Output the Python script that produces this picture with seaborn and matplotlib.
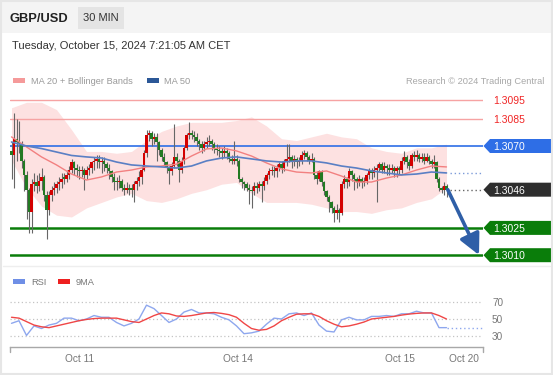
import numpy as np
import pandas as pd
import matplotlib
matplotlib.use('Agg')
import matplotlib.pyplot as plt
from matplotlib.patches import Rectangle, Polygon
from matplotlib.lines import Line2D
import seaborn as sns

sns.set_theme(style='white')
plt.rcParams['font.family'] = ['Liberation Sans', 'DejaVu Sans']

# ---- data (prices in pips above 1.3000, 30 min candles) ----
BASE = 1.3000

open_pips = [67, 65, 74, 72, 71, 62, 54, 46, 34, 49, 50, 48, 51, 53, 43, 35, 43, 46, 47, 49,
             50, 53, 52, 54, 57, 61, 58, 57, 56, 57, 54, 57, 58, 61, 62, 63, 61, 62, 60, 58,
             56, 53, 51, 50, 51, 47, 46, 47, 47, 46, 49, 51, 53, 57, 66, 76, 77, 74, 75, 72,
             68, 64, 61, 58, 56, 59, 64, 62, 57, 62, 69, 76, 77, 76, 75, 73, 71, 69, 71, 72,
             73, 71, 69, 68, 67, 66, 67, 66, 63, 62, 63, 62, 52, 50, 49, 47, 46, 45, 48, 47,
             49, 48, 51, 54, 56, 57, 56, 58, 60, 58, 61, 63, 64, 61, 63, 61, 62, 65, 66, 64,
             62, 63, 54, 52, 56, 50, 45, 42, 39, 36, 33, 35, 33, 49, 52, 50, 56, 54, 52, 50,
             52, 50, 51, 54, 57, 55, 57, 58, 60, 57, 59, 58, 57, 58, 56, 58, 57, 62, 64, 61,
             59, 65, 64, 65, 63, 64, 62, 64, 62, 60, 61, 52, 47, 46, 48]
high_pips = [72, 88, 85, 84, 73, 63, 56, 47, 52, 55, 54, 55, 58, 54, 45, 45, 48, 50, 51, 53,
             55, 55, 57, 59, 63, 62, 60, 59, 59, 58, 59, 60, 62, 64, 65, 65, 64, 64, 61, 60,
             57, 55, 53, 54, 52, 49, 50, 49, 49, 51, 53, 56, 59, 68, 79, 79, 78, 77, 77, 73,
             69, 66, 62, 59, 61, 82, 66, 63, 64, 70, 77, 83, 79, 78, 77, 74, 73, 73, 75, 76,
             74, 72, 71, 70, 69, 70, 69, 67, 65, 73, 65, 63, 53, 51, 50, 49, 48, 50, 50, 51,
             51, 53, 55, 58, 59, 59, 60, 61, 62, 63, 71, 71, 65, 65, 64, 64, 67, 68, 67, 65,
             66, 64, 56, 57, 57, 51, 46, 43, 40, 37, 38, 36, 51, 54, 53, 58, 57, 55, 53, 54,
             53, 53, 55, 58, 58, 59, 60, 61, 61, 61, 60, 60, 60, 59, 59, 59, 64, 67, 65, 63,
             66, 67, 68, 66, 66, 66, 66, 65, 63, 65, 62, 53, 48, 50, 49]
low_pips = [52, 47, 62, 66, 58, 45, 30, 22, 22, 45, 44, 45, 46, 40, 19, 32, 40, 43, 44, 46,
            47, 49, 50, 52, 55, 54, 53, 52, 53, 46, 52, 54, 55, 57, 58, 58, 55, 56, 55, 52,
            50, 46, 46, 47, 45, 43, 44, 43, 42, 39, 46, 48, 49, 56, 64, 73, 70, 71, 62, 65,
            62, 59, 55, 49, 54, 58, 59, 50, 55, 60, 68, 74, 74, 72, 70, 68, 66, 67, 69, 70,
            68, 66, 65, 64, 63, 64, 63, 61, 60, 60, 59, 50, 47, 46, 45, 38, 36, 43, 44, 45,
            39, 46, 49, 52, 54, 53, 53, 56, 55, 56, 59, 61, 58, 59, 58, 59, 60, 63, 62, 60,
            61, 52, 49, 51, 48, 43, 40, 34, 33, 28, 30, 28, 32, 47, 47, 48, 51, 46, 47, 48,
            47, 48, 49, 52, 52, 53, 39, 56, 55, 55, 54, 54, 55, 53, 53, 54, 55, 60, 58, 57,
            58, 62, 62, 61, 61, 60, 61, 60, 58, 58, 50, 45, 44, 43, 42]
close_pips = [65, 74, 72, 71, 62, 54, 46, 34, 49, 50, 48, 51, 53, 43, 35, 43, 46, 47, 49, 50,
              52, 52, 54, 57, 61, 58, 57, 56, 57, 54, 57, 58, 61, 62, 63, 61, 62, 60, 58, 56,
              53, 50, 50, 51, 47, 46, 47, 46, 46, 49, 51, 53, 57, 66, 76, 77, 74, 75, 72, 68,
              64, 61, 58, 56, 59, 64, 62, 57, 62, 69, 76, 77, 76, 75, 73, 71, 69, 71, 72, 73,
              71, 69, 68, 67, 66, 67, 66, 63, 62, 63, 62, 52, 50, 49, 47, 46, 45, 48, 47, 49,
              48, 51, 54, 56, 57, 56, 58, 60, 58, 61, 63, 64, 61, 63, 61, 62, 65, 66, 64, 62,
              63, 54, 52, 56, 50, 45, 42, 39, 36, 33, 35, 33, 49, 52, 50, 56, 54, 52, 50, 52,
              50, 51, 54, 57, 55, 57, 58, 60, 57, 59, 58, 57, 58, 56, 58, 57, 62, 64, 61, 59,
              65, 64, 65, 63, 64, 62, 64, 62, 60, 61, 52, 47, 46, 48, 46]

# indicators read every 6th candle
ma20_pips = [75, 69.5, 64, 59.6, 54.6, 51.3, 53, 55.7, 56.8, 58.5, 59, 60, 64.5, 68.4, 68.9,
             67.3, 64.5, 60.7, 57.4, 55.7, 55.2, 56.3, 53.5, 50.2, 50.2, 52.4, 54.1, 56.8, 59, 58.5]
upper_pips = [91, 94, 94, 90, 79, 67, 67, 66, 67, 73, 78, 81, 83, 83, 83, 84, 86, 81, 74, 73,
              75, 77, 75, 74, 69, 67, 66, 69, 69, 71]
lower_pips = [62, 47, 37, 32, 31, 36, 39, 42, 44, 40, 39, 41, 44, 46, 49, 50, 44, 39, 39, 39,
              38, 36, 34, 34, 33, 35, 36, 39, 41, 47]
ma50_pips = [72.2, 70, 68.6, 66.7, 64.8, 64, 63.4, 61.2, 59.6, 59, 58.5, 57.9, 59, 61.8, 63.4,
             64, 62.9, 61.8, 61.2, 61.8, 61.8, 60.7, 59, 57.9, 56.3, 55.2, 54.1, 54.6, 55.7, 55.2]

# RSI and its 9MA read every 3rd candle
rsi_vals = [45, 48, 31, 42, 39, 43, 45, 51, 51, 48, 50, 54, 52, 52, 46, 42, 45, 50, 66, 62,
            54, 46, 50, 58, 61, 57, 57, 56, 52, 49, 42, 33, 34, 36, 44, 51, 50, 56, 57, 54,
            57, 43, 36, 35, 49, 52, 49, 49, 53, 53, 54, 53, 56, 56, 59, 57, 57, 40, 40]
rsi_ma9 = [52, 51, 47, 43, 41, 40, 42, 44, 46, 48, 49.5, 50.5, 51, 51, 51, 49, 47, 46, 50, 54,
           57, 56, 53.5, 53, 54, 55.5, 57, 57.5, 56.5, 55, 52, 45, 39, 37, 38, 42, 48, 52, 55.5, 56,
           56, 53, 48, 44, 41, 42, 44, 46.5, 50, 51, 52, 53, 54.5, 55.7, 56.5, 57, 57, 54, 50]

resistances = [1.3095, 1.3085]
pivot = 1.3070
supports = [1.3025, 1.3010]
rsi_levels = [30, 50, 70]
date_ticks = ['Oct 11', 'Oct 14', 'Oct 15', 'Oct 20']
date_tick_pos = [27.4, 90.6, 155.4, 181.0]

RED = '#d40000'
GREEN = '#237a23'
BLUE_LVL = '#2e6ee6'
GREEN_LVL = '#0a7d0a'

candles = pd.DataFrame({'open': open_pips, 'high': high_pips,
                        'low': low_pips, 'close': close_pips}) / 1e4 + BASE
candles['idx'] = np.arange(len(candles))
candles['color'] = np.where(candles['close'] > candles['open'], RED, GREEN)

ind = pd.DataFrame({'ma20': ma20_pips, 'upper': upper_pips,
                    'lower': lower_pips, 'ma50': ma50_pips}) / 1e4 + BASE
ind['idx'] = np.arange(0, len(candles), 6)

osc = pd.DataFrame({'rsi': rsi_vals, 'ma9': rsi_ma9})
osc['idx'] = np.arange(0, len(candles), 3)

# ---- figure ----
W, H = 553, 375
fig = plt.figure(figsize=(W / 100, H / 100), dpi=100)
fig.patch.set_facecolor('white')


def fx(px):
    return px / W


def fy(py):
    return 1 - py / H


fig.add_artist(Rectangle((0, fy(33)), 1, 33 / H, transform=fig.transFigure,
                         color='#f4f4f4', lw=0, zorder=0))
fig.add_artist(Rectangle((fx(78), fy(29)), 46 / W, 22 / H, transform=fig.transFigure,
                         color='#e4e4e4', lw=0, zorder=1))
fig.add_artist(Rectangle((0.002, 0.003), 0.996, 0.994, transform=fig.transFigure,
                         fill=False, edgecolor='#e6e6e6', lw=1.5, zorder=1))
fig.add_artist(Line2D([fx(3), fx(550)], [fy(266), fy(266)], color='#eeeeee', lw=1))

fig.text(fx(10), fy(22), 'GBP/USD', fontsize=9.3, fontweight='bold', color='#222222')
fig.text(fx(101), fy(21), '30 MIN', fontsize=8, color='#333333', ha='center')
fig.text(fx(12), fy(49), 'Tuesday, October 15, 2024 7:21:05 AM CET', fontsize=8,
         color='#333333')

# legends
fig.add_artist(Rectangle((fx(13), fy(83)), 12 / W, 5 / H, transform=fig.transFigure,
                         color='#f59a9a', lw=0))
fig.text(fx(31), fy(84), 'MA 20 + Bollinger Bands', fontsize=6.7, color='#9a9a9a')
fig.add_artist(Rectangle((fx(147), fy(83)), 12 / W, 5 / H, transform=fig.transFigure,
                         color='#2b5797', lw=0))
fig.text(fx(164), fy(84), 'MA 50', fontsize=6.7, color='#9a9a9a')
fig.text(fx(544), fy(84), 'Research \u00a9 2024 Trading Central', fontsize=6.7,
         color='#a8a8a8', ha='right')

fig.add_artist(Rectangle((fx(13), fy(284)), 12 / W, 5 / H, transform=fig.transFigure,
                         color='#6f8fe6', lw=0))
fig.text(fx(31), fy(285), 'RSI', fontsize=6.7, color='#777777')
fig.add_artist(Rectangle((fx(58), fy(284)), 12 / W, 5 / H, transform=fig.transFigure,
                         color='#ee2020', lw=0))
fig.text(fx(76), fy(285), '9MA', fontsize=6.7, color='#777777')

# ---- main price panel ----
PX_PER_PIP = 1.82
ax = fig.add_axes([fx(10), fy(262), (483 - 10) / W, (262 - 92) / H])
ax.set_xlim(-0.6, 188.6)
ax.set_ylim(pivot - (262 - 146) / PX_PER_PIP / 1e4, pivot + (146 - 92) / PX_PER_PIP / 1e4)
ax.axis('off')

ax.fill_between(ind['idx'], ind['lower'], ind['upper'], color='#fde1e1', lw=0, zorder=1)

for lv in resistances:
    ax.axhline(lv, color='#f6a3a3', lw=1, zorder=2)
ax.axhline(pivot, color=BLUE_LVL, lw=1.2, zorder=2)
for lv in supports:
    ax.axhline(lv, color=GREEN_LVL, lw=1.8, zorder=2)

ax.vlines(candles['idx'], candles['low'], candles['high'], color='#666666', lw=0.8, zorder=3)
ax.bar(candles['idx'], candles['close'] - candles['open'], bottom=candles['open'],
       width=0.85, color=candles['color'], lw=0, zorder=4)

sns.lineplot(data=ind, x='idx', y='ma20', ax=ax, color='#f28080', lw=1, zorder=5)
sns.lineplot(data=ind, x='idx', y='ma50', ax=ax, color='#5a7fc4', lw=1.2, zorder=5)

last_i = candles['idx'].iloc[-1]
last_close = candles['close'].iloc[-1]
ax.hlines(ind['ma50'].iloc[-1], last_i + 1.5, 188.6, color='#7c9bd9', lw=1,
          linestyles=(0, (1, 2)), zorder=2)
ax.hlines(last_close, last_i + 1.5, 188.6, color='#666666', lw=1,
          linestyles=(0, (1, 2)), zorder=2)

ax.annotate('', xy=(187, supports[-1] + 0.00001), xytext=(last_i + 0.5, last_close),
            arrowprops=dict(arrowstyle='-|>,head_width=0.45,head_length=0.9',
                            color='#2f5fa7', lw=2.6, mutation_scale=14,
                            shrinkA=0, shrinkB=0), zorder=6)

# price labels on the right
ytr = ax.get_yaxis_transform()
half = 7 / PX_PER_PIP / 1e4


def tag(level, face):
    pts = [(1.001, level), (1.0148, level + half), (1.1438, level + half),
           (1.1438, level - half), (1.0148, level - half)]
    ax.add_patch(Polygon(pts, closed=True, transform=ytr, facecolor=face,
                         edgecolor='none', clip_on=False, zorder=7))
    ax.text(1.0211, level, f'{level:.4f}', transform=ytr, color='white', fontsize=7.5,
            ha='left', va='center_baseline', zorder=8, clip_on=False)


for lv in resistances:
    ax.text(1.0211, lv, f'{lv:.4f}', transform=ytr, color='#f02525', fontsize=7.5,
            ha='left', va='center_baseline', clip_on=False)
tag(pivot, BLUE_LVL)
tag(round(last_close, 4), '#2e2e2e')
for lv in supports:
    tag(lv, GREEN_LVL)

# ---- RSI panel ----
ax2 = fig.add_axes([fx(10), fy(347), (483 - 10) / W, (347 - 290) / H])
ax2.set_xlim(-0.6, 188.6)
ax2.set_ylim(50 - (347 - 319) / 0.865, 50 + (319 - 290) / 0.865)
for lv in rsi_levels:
    ax2.axhline(lv, color='#c4c4c4', lw=0.9, ls=(0, (1, 2)), zorder=1)
sns.lineplot(data=osc, x='idx', y='rsi', ax=ax2, color='#8ea7ee', lw=1, zorder=3)
sns.lineplot(data=osc, x='idx', y='ma9', ax=ax2, color='#f04646', lw=1, zorder=4)
ax2.hlines(osc['rsi'].iloc[-1], last_i, 188.6, color='#8ea7ee', lw=1,
           linestyles=(0, (1, 2)), zorder=2)

for s in ['left', 'right', 'top']:
    ax2.spines[s].set_visible(False)
ax2.spines['bottom'].set_color('#a8a8a8')
ax2.spines['bottom'].set_linewidth(1)
btr = ax2.get_xaxis_transform()
for xe in [-0.6, 188.6]:
    ax2.plot([xe, xe], [0, -0.09], transform=btr, color='#a8a8a8', lw=1, clip_on=False)

ax2.set_xticks(date_tick_pos, date_ticks)
ax2.yaxis.tick_right()
ax2.set_yticks(rsi_levels, [str(v) for v in rsi_levels])
ax2.tick_params(axis='x', length=0, pad=5, labelsize=7.3, labelcolor='#777777')
ax2.tick_params(axis='y', length=0, pad=6.5, labelsize=7.2, labelcolor='#777777')
ax2.set_xlabel('')
ax2.set_ylabel('')
ax2.grid(False)
ax2.set_facecolor('none')

fig.savefig('out.png', dpi=100)
